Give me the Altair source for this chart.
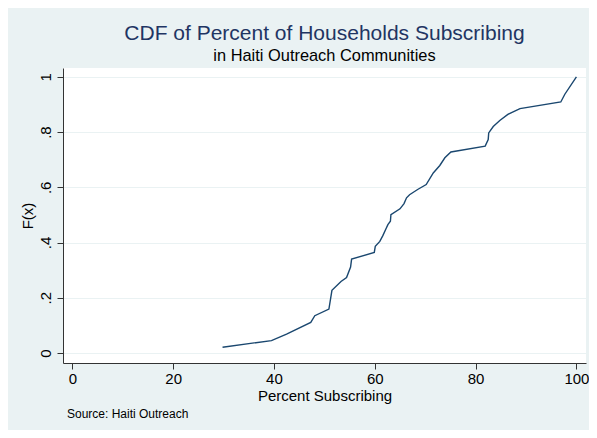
import altair as alt
import pandas as pd

pct = [29.8, 39.5, 42.5, 47.3, 48.1, 50.9, 51.5, 53.3, 54.4, 55.2, 55.4,
       59.9, 60.1, 61.0, 61.6, 62.2, 62.6, 63.1, 63.2, 65.0, 65.8, 66.3,
       66.9, 68.5, 70.2, 71.6, 72.9, 73.9, 75.1, 81.9, 82.5, 82.6, 83.5,
       84.8, 86.4, 88.8, 96.9, 97.7, 100.0]
cdf = [0.021, 0.045, 0.068, 0.111, 0.135, 0.159, 0.227, 0.259, 0.273, 0.311, 0.340,
       0.364, 0.386, 0.404, 0.425, 0.449, 0.465, 0.477, 0.501, 0.522, 0.541, 0.562,
       0.573, 0.592, 0.610, 0.652, 0.679, 0.707, 0.728, 0.749, 0.773, 0.797, 0.820,
       0.842, 0.864, 0.885, 0.909, 0.937, 1.000]

x_ticks = [0, 20, 40, 60, 80, 100]
y_ticks = [0, 0.2, 0.4, 0.6, 0.8, 1.0]

title_text = "CDF of Percent of Households Subscribing"
subtitle_text = "in Haiti Outreach Communities"
x_title = "Percent Subscribing"
y_title = "F(x)"
note_text = ["Source: Haiti Outreach"]

df = pd.DataFrame({"pct": pct, "F": cdf})
note_df = pd.DataFrame({"t": note_text})

FONT = "Liberation Sans"
BG = "#EAF2F3"
LINE = "#1A476F"
AXIS = "#333333"

line = alt.Chart(df).mark_line(color=LINE, strokeWidth=1.4).encode(
    x=alt.X("pct:Q",
            scale=alt.Scale(domain=[-1.85, 101.9], nice=False, zero=False),
            axis=alt.Axis(values=x_ticks, title=x_title, grid=False,
                          labelFontSize=15, titleFontSize=15,
                          tickSize=6, labelPadding=2, titlePadding=2,
                          labelFlush=False, labelOverlap=False)),
    y=alt.Y("F:Q",
            scale=alt.Scale(domain=[-0.0362, 1.032], nice=False, zero=False),
            axis=alt.Axis(values=y_ticks, title=y_title, grid=True,
                          labelAngle=270, labelAlign="center",
                          labelBaseline="alphabetic",
                          labelExpr="datum.value == 0 ? '0' : datum.value == 1 ? '1' : replace(format(datum.value, '.1f'), '0.', '.')",
                          labelFontSize=15, titleFontSize=15,
                          tickSize=6, labelPadding=7, titlePadding=3,
                          labelFlush=False, labelOverlap=False)),
)

note = alt.Chart(note_df).mark_text(
    align="left", baseline="top", fontSize=12, font=FONT, color="black"
).encode(
    text="t:N",
    x=alt.value(4),
    y=alt.value(341),
)

chart = alt.layer(line, note).properties(
    width=523,
    height=295,
    autosize=alt.AutoSizeParams(type="none"),
    padding={"left": 55, "top": 60, "right": 3, "bottom": 67},
    background=BG,
    title=alt.TitleParams(
        text=title_text,
        subtitle=subtitle_text,
        fontSize=21,
        subtitleFontSize=16.4,
        font=FONT,
        subtitleFont=FONT,
        fontWeight="normal",
        color="#1F3563",
        subtitleColor="black",
        anchor="middle",
        frame="group",
        offset=4,
        subtitlePadding=4,
    ),
).configure_view(
    fill="white", stroke=None
).configure_axis(
    labelFont=FONT, titleFont=FONT, labelColor="black", titleColor="black",
    titleFontWeight="normal",
    domainColor=AXIS, domainWidth=1, tickColor=AXIS, tickWidth=1,
    gridColor=BG, gridWidth=1.2,
)

chart.save("out.html", embed_options={"renderer": "svg", "actions": False})
